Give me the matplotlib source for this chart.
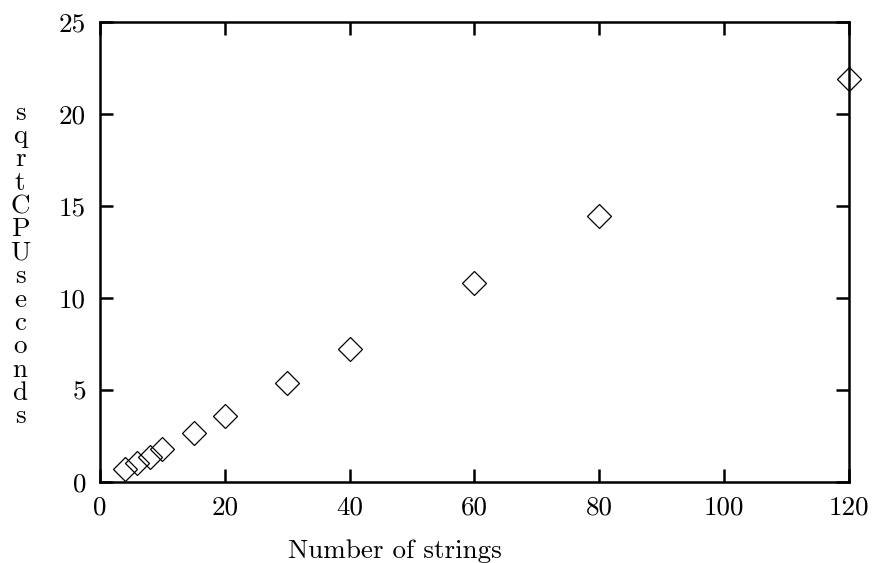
import matplotlib
matplotlib.use("Agg")
import matplotlib.pyplot as plt

# Number of strings vs. square root of CPU time
n_strings = [4, 6, 8, 10, 15, 20, 30, 40, 60, 80, 120]
sqrt_cpu = [0.68, 1.05, 1.37, 1.78, 2.68, 3.59, 5.40, 7.25, 10.8, 14.47, 21.9]

x_ticks = [0, 20, 40, 60, 80, 100, 120]
y_ticks = [0, 5, 10, 15, 20, 25]

plt.rcParams["font.family"] = ["cmr10", "DejaVu Serif"]
plt.rcParams["axes.formatter.use_mathtext"] = True

fig = plt.figure(figsize=(8.74, 5.63), dpi=100)
ax = fig.add_axes([0.1144, 0.1439, 0.9714 - 0.1144, 0.961 - 0.1439])

ax.plot(n_strings, sqrt_cpu, linestyle="none", marker="D", markersize=12.5,
        markerfacecolor="none", markeredgecolor="black", markeredgewidth=0.9,
        clip_on=False, zorder=5)

ax.set_xlim(0, 120)
ax.set_ylim(0, 25)
ax.set_xticks(x_ticks)
ax.set_yticks(y_ticks)
ax.set_xticklabels([str(v) for v in x_ticks])
ax.set_yticklabels([str(v) for v in y_ticks])

for s in ax.spines.values():
    s.set_linewidth(1.8)
ax.tick_params(direction="in", length=9.5, width=1.8, top=True, right=True,
               labelsize=19.5, pad=10)

ax.set_xlabel("Number of strings", fontsize=19.5, labelpad=10)
ax.xaxis.set_label_coords(0.394, -0.125)
fig.text(0.023, 0.53, "\n".join("sqrtCPUseconds"), fontsize=19.5,
         ha="center", va="center", linespacing=0.98)

fig.savefig("out.png", dpi=100)
